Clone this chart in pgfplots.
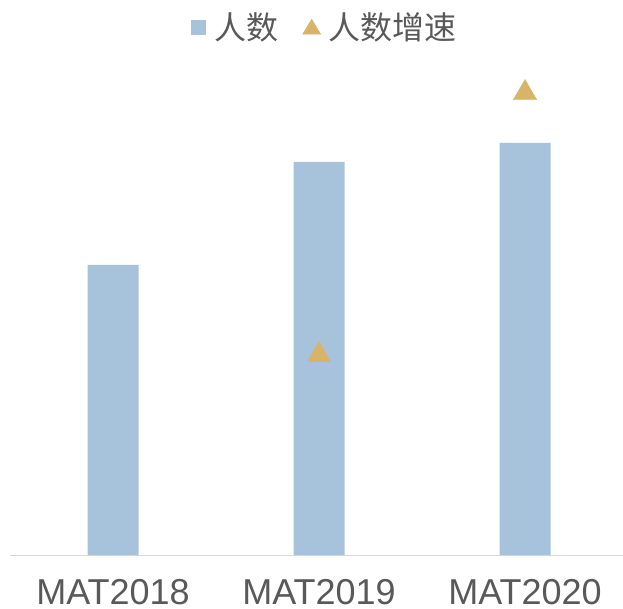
\documentclass[border=0pt]{standalone}
\usepackage{pgfplots}
\pgfplotsset{compat=1.18}
\usepackage{fontspec}
\setmainfont{Liberation Sans}
\newfontfamily\cjk{Noto Sans CJK SC}
\definecolor{barblue}{HTML}{A7C3DB}
\definecolor{trigold}{HTML}{D8B46B}
\definecolor{txtgrey}{HTML}{595959}
\definecolor{axgrey}{HTML}{D9D9D9}
\begin{document}
\begin{tikzpicture}
\useasboundingbox (0,0) rectangle (623pt,608pt);
\begin{axis}[
  at={(10pt,53pt)}, anchor=south west,
  scale only axis,
  width=618pt, height=555pt,
  xmin=-0.5, xmax=2.5,
  ymin=0, ymax=555,
  axis x line=bottom,
  axis y line=none,
  x axis line style={draw=axgrey, line width=1pt, -},
  xtick={0,1,2},
  xticklabels={MAT2018,MAT2019,MAT2020},
  major tick length=0pt,
  xticklabel style={anchor=base, yshift=-49pt, inner sep=0pt, text depth=0pt,
    font=\fontsize{36}{40}\selectfont, text=txtgrey},
  clip=false,
  legend columns=2,
  legend style={at={(0.510,0.951)}, anchor=center, draw=none, fill=none,
    font=\fontsize{32}{37}\selectfont\cjk, text=txtgrey,
    /tikz/every odd column/.append style={column sep=6pt},
    /tikz/every even column/.append style={column sep=22pt},
    inner sep=0pt},
]
\addplot[ybar, bar width=51pt, bar shift=0pt, fill=barblue, draw=none,
  legend image code/.code={\fill[barblue] (0pt,-7.5pt) rectangle (15pt,7.5pt);}]
  coordinates {(0,290) (1,393) (2,412)};
\addlegendentry{人数}
\addplot[only marks, mark=triangle*, mark size=13.5pt, color=trigold,
  legend image code/.code={\fill[trigold] (0pt,-7pt) -- (18pt,-7pt) -- (9pt,8pt) -- cycle;}]
  coordinates {(1,200) (2,462)};
\addlegendentry{人数增速}
\end{axis}
\end{tikzpicture}
\end{document}
